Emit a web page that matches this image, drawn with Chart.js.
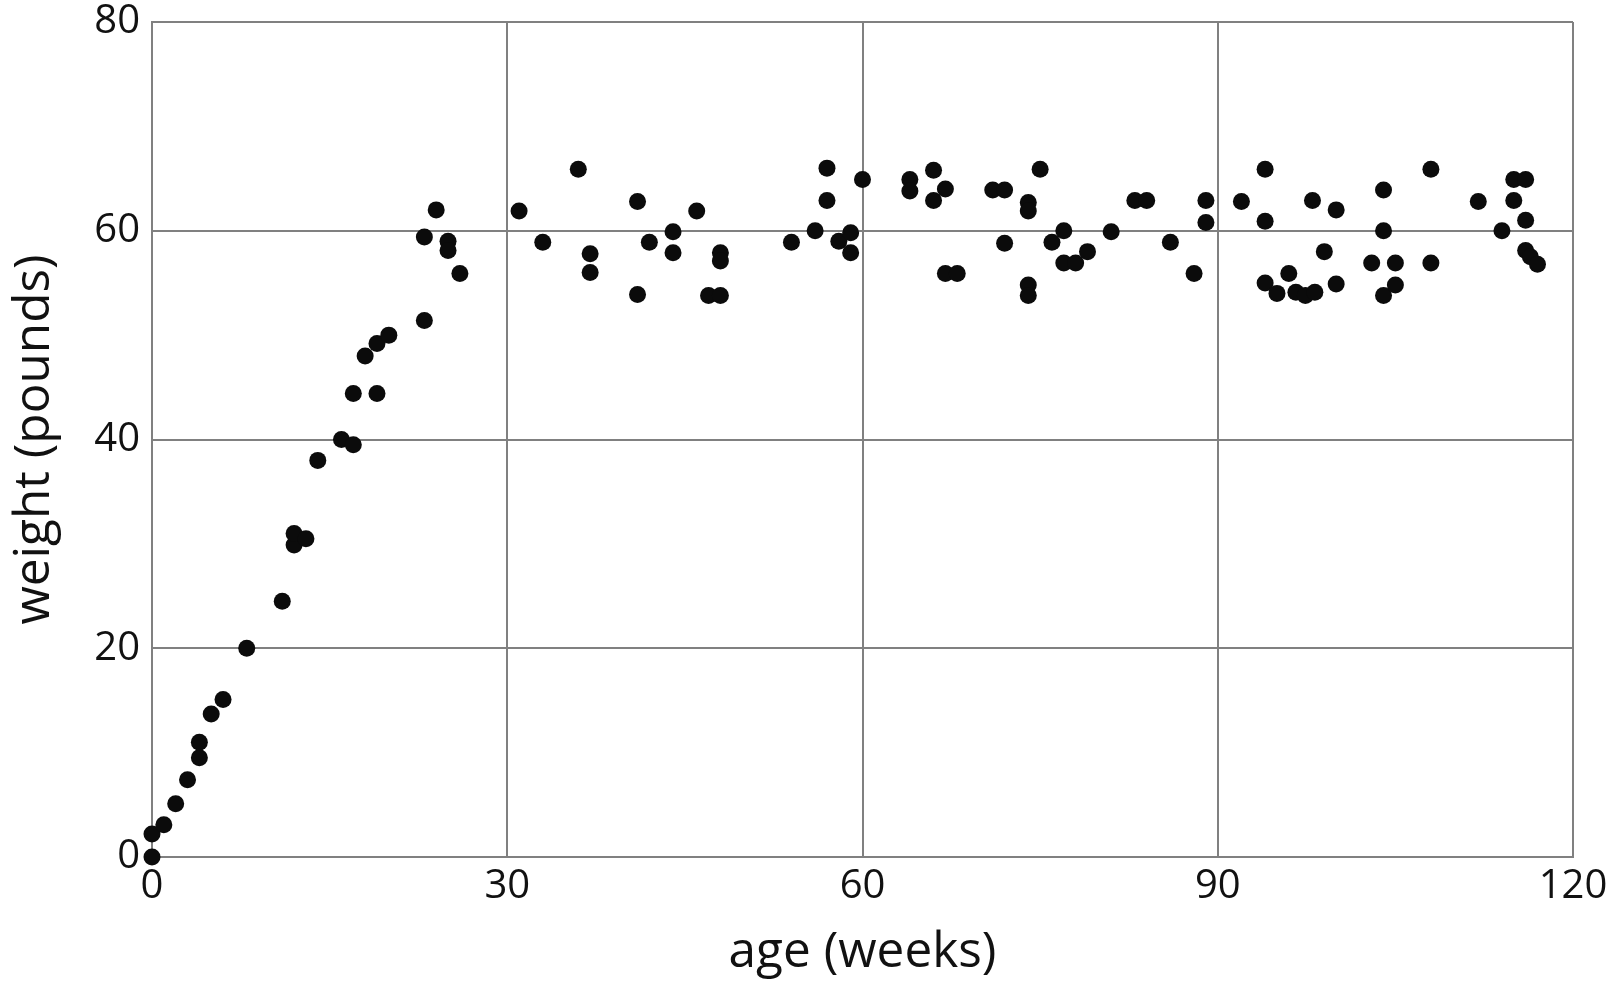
<!DOCTYPE html>
<html>
<head>
<meta charset="utf-8">
<script src="https://cdn.jsdelivr.net/npm/chart.js@4.4.1/dist/chart.umd.min.js"></script>
<style>
  body { margin: 0; background: #fff; }
  #wrap { width: 1610px; height: 982px; }
</style>
</head>
<body>
<div id="wrap"><canvas id="chart" width="1610" height="982"></canvas></div>
<script>
// Axis ticks
const xTicks = [0, 30, 60, 90, 120];
const yTicks = [0, 20, 40, 60, 80];

// Age in weeks and weight in pounds
const ageWeeks = [
    0, 0, 1, 2, 3, 4, 4, 5, 6, 8,
    11, 12, 12, 13, 14, 16, 17, 17, 18, 19,
    19, 20, 23, 23, 24, 25, 25, 26,
    31, 33, 36, 37, 37, 41, 41, 42, 44, 44,
    46, 47, 48, 48, 48, 54, 56, 57, 57, 58,
    59, 59, 60,
    64, 64, 66, 66, 67, 67, 68, 71, 72, 72,
    74, 74, 74, 74, 75, 76, 77, 77, 78, 79,
    81, 83, 84, 86, 88, 89, 89,
    92, 94, 94, 94, 95, 96, 96.6, 97.4, 98, 98.2,
    99, 100, 100, 103, 104, 104, 104, 105, 105, 108,
    108, 112, 114, 115, 115, 116, 116, 116, 116.4, 117
];
const weightPounds = [
    0, 2.2, 3.1, 5.1, 7.4, 9.5, 11, 13.7, 15.1, 20,
    24.5, 29.9, 31, 30.5, 38, 40, 39.5, 44.4, 48, 49.2,
    44.4, 50, 51.4, 59.4, 62, 59, 58.1, 55.9,
    61.9, 58.9, 65.9, 57.8, 56, 62.8, 53.9, 58.9, 59.9, 57.9,
    61.9, 53.8, 57.9, 57.1, 53.8, 58.9, 60, 66, 62.9, 59,
    59.8, 57.9, 64.9,
    64.9, 63.8, 65.8, 62.9, 64, 55.9, 55.9, 63.9, 63.9, 58.8,
    62.7, 61.9, 54.8, 53.8, 65.9, 58.9, 60, 56.9, 56.9, 58,
    59.9, 62.9, 62.9, 58.9, 55.9, 62.9, 60.8,
    62.8, 65.9, 60.9, 55, 54, 55.9, 54.1, 53.8, 62.9, 54.1,
    58, 62, 54.9, 56.9, 63.9, 60, 53.8, 56.9, 54.8, 65.9,
    56.9, 62.8, 60, 64.9, 62.9, 64.9, 61, 58.1, 57.5, 56.8
];

let points = [];
for (let i = 0; i < ageWeeks.length; i++) {
    points.push({ x: ageWeeks[i], y: weightPounds[i] });
}

const gridColor = '#808080';
const textColor = '#111111';

new Chart(document.getElementById('chart').getContext('2d'), {
    type: 'scatter',
    data: {
        datasets: [{
            data: points,
            backgroundColor: '#0b0b0b',
            borderWidth: 0,
            pointRadius: 8.5,
            pointHoverRadius: 8.5,
            clip: false
        }]
    },
    options: {
        responsive: false,
        animation: false,
        devicePixelRatio: 1,
        layout: {
            padding: { left: 0, right: 37, top: 22, bottom: 0 }
        },
        plugins: {
            legend: { display: false },
            tooltip: { enabled: false }
        },
        scales: {
            x: {
                type: 'linear',
                min: 0,
                max: 120,
                afterBuildTicks: (scale) => {
                    scale.ticks = xTicks.map(v => ({ value: v }));
                },
                afterFit: (scale) => {
                    // fixed axis size, let the labels hang into the padding
                    scale.height = 125;
                    scale.paddingLeft = 0;
                    scale.paddingRight = 0;
                },
                ticks: {
                    color: textColor,
                    font: { family: 'Open Sans', size: 40 },
                    padding: 6,
                    maxRotation: 0
                },
                grid: { color: gridColor, lineWidth: 2, drawTicks: false },
                border: { display: true, color: gridColor, width: 2 },
                title: {
                    display: true,
                    text: 'age (weeks)',
                    color: textColor,
                    font: { family: 'Open Sans', size: 49.5, lineHeight: 1 },
                    padding: { top: 0, bottom: 4 }
                }
            },
            y: {
                type: 'linear',
                min: 0,
                max: 80,
                afterBuildTicks: (scale) => {
                    scale.ticks = yTicks.map(v => ({ value: v }));
                },
                afterFit: (scale) => {
                    scale.width = 152;
                    scale.paddingTop = 0;
                    scale.paddingBottom = 0;
                },
                ticks: {
                    color: textColor,
                    font: { family: 'Open Sans', size: 40 },
                    padding: 12
                },
                grid: { color: gridColor, lineWidth: 2, drawTicks: false },
                border: { display: true, color: gridColor, width: 2 },
                title: {
                    display: true,
                    text: 'weight (pounds)',
                    color: textColor,
                    font: { family: 'Open Sans', size: 49.5, lineHeight: 1 },
                    padding: { top: 10, bottom: 0 }
                }
            }
        }
    }
});
</script>
</body>
</html>
